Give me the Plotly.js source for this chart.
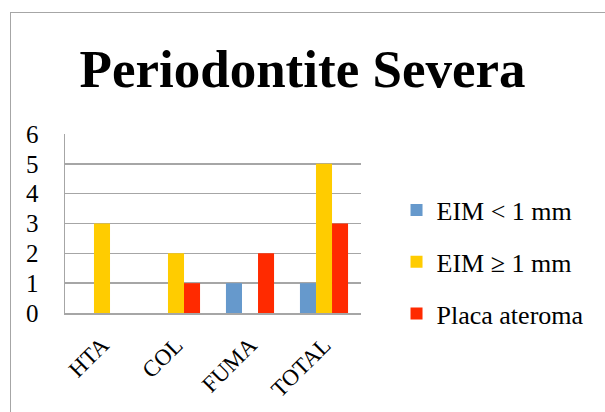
<!DOCTYPE html>
<html>
<head>
<meta charset="utf-8">
<script src="https://cdn.plot.ly/plotly-3.0.1.min.js"></script>
<style>
  body { margin: 0; background: #fff; }
  #frame { position: absolute; left: 10px; top: 12px; width: 700px; height: 500px; border: 1.5px solid #a6a6a6; }
  #chart { position: absolute; left: 0; top: 0; width: 605px; height: 412px; }
</style>
</head>
<body>
<div id="frame"></div>
<div id="chart"></div>
<script>
// Periodontite Severa - grouped bars
const categories = ['HTA', 'COL', 'FUMA', 'TOTAL'];
const eimMenor = [0, 0, 1, 1];
const eimMaior = [3, 2, 0, 5];
const placa = [0, 1, 2, 3];
const seriesNames = ['EIM < 1 mm', 'EIM \u2265 1 mm', 'Placa ateroma'];
const seriesColors = ['#6699cc', '#ffcc00', '#ff2a00'];
const yTicks = [0, 1, 2, 3, 4, 5, 6];

const serif = 'Liberation Serif';

function makeTrace(values, i) {
    return {
        type: 'bar',
        x: categories,
        y: values,
        name: seriesNames[i],
        legendgroup: 'g' + i,
        marker: { color: seriesColors[i] },
        hoverinfo: 'none'
    };
}

const data = [eimMenor, eimMaior, placa].map(makeTrace);

const layout = {
    width: 605,
    height: 412,
    margin: { l: 65, r: 244, t: 134, b: 99 },
    paper_bgcolor: 'rgba(0,0,0,0)',
    plot_bgcolor: 'rgba(0,0,0,0)',
    font: { family: serif, color: '#000' },
    barmode: 'group',
    bargap: 0.35,
    bargroupgap: 0,
    title: {
        text: '<b>Periodontite Severa</b>',
        font: { family: serif, size: 53, color: '#000' },
        x: 0.5,
        xref: 'container',
        xanchor: 'center',
        y: 0.835,
        yref: 'container',
        yanchor: 'middle'
    },
    xaxis: {
        tickangle: -45,
        tickfont: { family: serif, size: 23, color: '#000' },
        showline: true,
        linecolor: '#a6a6a6',
        linewidth: 1.5,
        ticks: '',
        ticklabelstandoff: 8
    },
    yaxis: {
        range: [0, 6],
        tickvals: yTicks,
        tickfont: { family: serif, size: 25, color: '#000' },
        showgrid: true,
        gridcolor: '#a6a6a6',
        gridwidth: 1.5,
        showline: true,
        linecolor: '#a6a6a6',
        linewidth: 1.5,
        zeroline: false,
        ticks: '',
        ticklabelstandoff: 20
    },
    legend: {
        x: 1.12,
        xanchor: 'left',
        y: 0.285,
        yanchor: 'middle',
        font: { family: serif, size: 26, color: '#000' },
        traceorder: 'grouped',
        tracegroupgap: 15,
        itemwidth: 30
    },
    showlegend: true
};

Plotly.newPlot('chart', data, layout, { displayModeBar: false, staticPlot: true });
</script>
</body>
</html>
